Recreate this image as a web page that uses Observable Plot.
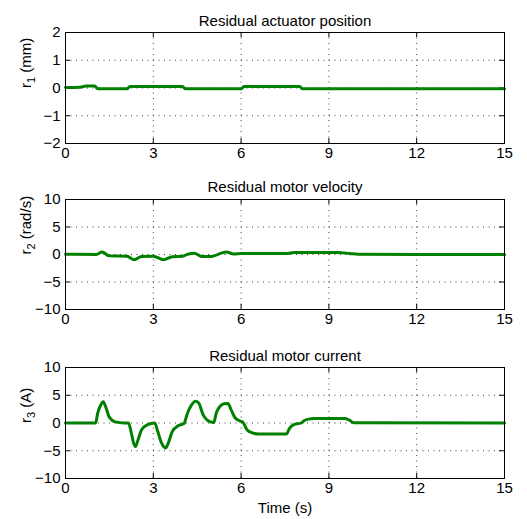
<!DOCTYPE html>
<html>
<head>
<meta charset="utf-8">
<script src="https://cdn.jsdelivr.net/npm/d3@7"></script>
<script src="https://cdn.jsdelivr.net/npm/@observablehq/plot@0.6"></script>
<style>
  html, body { margin: 0; padding: 0; background: #fff; }
  #chart { width: 527px; }
  #chart svg { display: block; }
</style>
</head>
<body>
<div id="chart"></div>
<script>
// ---- data ----
const xTicks = [0, 3, 6, 9, 12, 15];
const yTicks1 = [-2, -1, 0, 1, 2];
const yTicks23 = [-10, -5, 0, 5, 10];

const titles = ["Residual actuator position", "Residual motor velocity", "Residual motor current"];
const yLabelSubs = ["1", "2", "3"];
const yLabelUnits = ["(mm)", "(rad/s)", "(A)"];
const xLabel = "Time (s)";

const time1 = [0, 0.5, 0.7, 1.0, 1.1, 2.1, 2.2, 4.0, 4.1, 6.0, 6.1, 8.0, 8.1, 15];
const r1 = [0.02, 0.03, 0.07, 0.07, -0.03, -0.03, 0.05, 0.05, -0.03, -0.03, 0.05, 0.05, -0.03, -0.03];

const time2 = [0, 1.05, 1.25, 1.5, 2.1, 2.35, 2.6, 3.0, 3.35, 3.65, 4.0, 4.2, 4.4, 4.65, 5.0, 5.3, 5.5, 5.75, 6.0, 7.6, 7.8, 9.3, 9.7, 10.0, 12, 15];
const r2 = [0.05, 0.0, 0.45, -0.25, -0.3, -0.95, -0.35, -0.3, -0.95, -0.4, -0.3, 0.1, 0.25, -0.35, -0.35, 0.2, 0.45, 0.1, 0.2, 0.2, 0.35, 0.35, 0.2, 0.05, 0.0, 0.0];

const time3 = [0, 1.03, 1.1, 1.2, 1.29, 1.38, 1.5, 1.7, 2.0, 2.15, 2.25, 2.32, 2.39, 2.48, 2.6, 2.8, 3.05, 3.15, 3.28, 3.42, 3.52, 3.65, 3.85, 4.05, 4.15, 4.28, 4.44, 4.55, 4.7, 4.95, 5.07, 5.15, 5.3, 5.42, 5.55, 5.65, 5.8, 5.95, 6.05, 6.2, 6.4, 6.6, 7.55, 7.65, 7.8, 8.05, 8.15, 8.3, 8.5, 9.55, 9.7, 9.85, 15];
const r3 = [0, 0, 1.8, 3.2, 3.85, 2.8, 1.0, 0.2, 0, 0, -1.8, -3.5, -4.25, -3.0, -1.2, -0.3, 0, -1.5, -3.6, -4.5, -3.5, -1.5, -0.5, -0.1, 1.5, 3.0, 3.9, 3.6, 1.5, 0.2, 0.1, 1.8, 3.1, 3.45, 3.5, 2.5, 0.9, 0.4, 0.2, -1.2, -1.8, -2.0, -2.0, -1.0, -0.3, 0.0, 0.4, 0.7, 0.8, 0.8, 0.5, 0.05, 0];

const FONT = "'Liberation Sans', Arial, Helvetica, sans-serif";
const GREEN = "#008000";
const fmt = d3.format("d");

function panel({time, values, yDomain, yTicks, idx, height, mt, mb, titleDy, withXLabel}) {
  const ml = 65, mr = 23, width = 527;
  const ph = height - mt - mb;
  const pw = width - ml - mr;
  const data = time.map((t, i) => ({t, v: values[i]}));
  const label = "r" + yLabelSubs[idx] + " " + yLabelUnits[idx];
  const marks = [
    Plot.ruleX(xTicks, {x: d => d, stroke: "#000", strokeOpacity: 0.75, strokeDasharray: "1,4.5"}),
    Plot.ruleY(yTicks, {y: d => d, stroke: "#000", strokeOpacity: 0.75, strokeDasharray: "1,4.5"}),
    Plot.tickX(xTicks, {x: d => d, insetTop: ph - 5, stroke: "#000"}),
    Plot.tickX(xTicks, {x: d => d, insetBottom: ph - 5, stroke: "#000"}),
    Plot.tickY(yTicks, {y: d => d, insetRight: pw - 5, stroke: "#000"}),
    Plot.tickY(yTicks, {y: d => d, insetLeft: pw - 5, stroke: "#000"}),
    Plot.line(data, {x: "t", y: "v", stroke: GREEN, strokeWidth: 3, curve: "monotone-x"}),
    Plot.frame({stroke: "#000", strokeWidth: 1}),
    Plot.text([titles[idx]], {text: d => d, frameAnchor: "top", dy: titleDy, fontSize: 15, fill: "#000"}),
    Plot.text([label], {text: d => d, frameAnchor: "left", dx: -39, rotate: -90, fontSize: 15, fill: "#000"})
  ];
  if (withXLabel) {
    marks.push(Plot.text([xLabel], {text: d => d, frameAnchor: "bottom", dy: 34, fontSize: 15, fill: "#000"}));
  }
  const svg = Plot.plot({
    width, height,
    marginLeft: ml, marginRight: mr, marginTop: mt, marginBottom: mb,
    style: {fontFamily: FONT, fontSize: "15px", color: "#000", background: "#fff", overflow: "visible"},
    x: {domain: [0, 15], ticks: xTicks, tickSize: 0, tickPadding: 4, tickFormat: fmt, label: null},
    y: {domain: yDomain, ticks: yTicks, tickSize: 0, tickPadding: 5, tickFormat: fmt, label: null},
    marks
  });
  // subscript in the y label
  d3.select(svg).selectAll("text").filter(function() { return this.textContent === label; })
    .each(function() {
      const t = d3.select(this);
      t.text(null);
      t.append("tspan").text("r");
      t.append("tspan").attr("dy", "4").attr("font-size", "11px").text(yLabelSubs[idx]);
      t.append("tspan").attr("dy", "-4").text(" " + yLabelUnits[idx]);
    });
  return svg;
}

const chart = document.getElementById("chart");
chart.appendChild(panel({time: time1, values: r1, yDomain: [-2, 2], yTicks: yTicks1, idx: 0, height: 170, mt: 32, mb: 27, titleDy: -17}));
chart.appendChild(panel({time: time2, values: r2, yDomain: [-10, 10], yTicks: yTicks23, idx: 1, height: 170, mt: 29, mb: 31, titleDy: -18}));
chart.appendChild(panel({time: time3, values: r3, yDomain: [-10, 10], yTicks: yTicks23, idx: 2, height: 179, mt: 27, mb: 41, titleDy: -17, withXLabel: true}));
</script>
</body>
</html>
